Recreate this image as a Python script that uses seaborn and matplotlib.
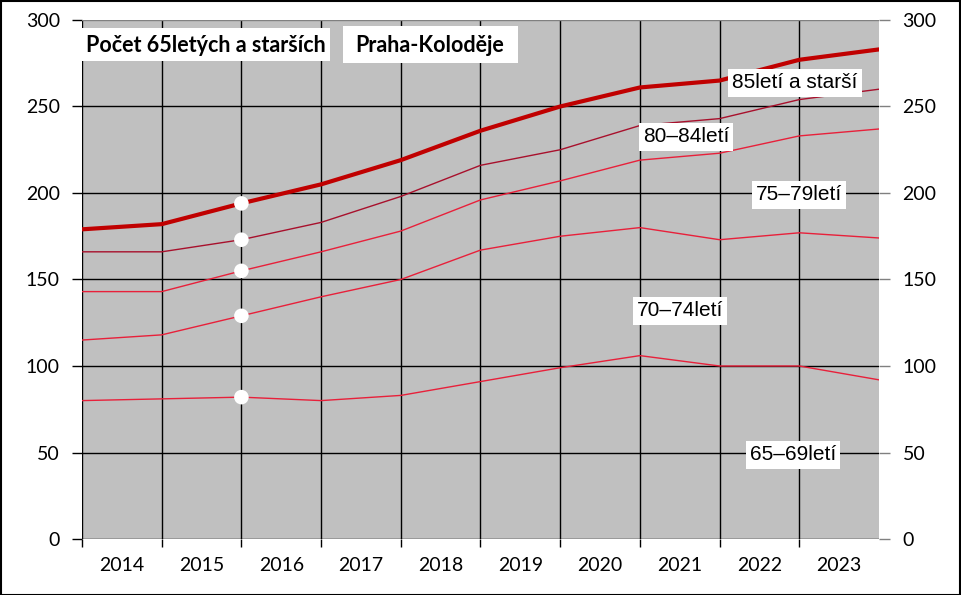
import matplotlib
matplotlib.use("Agg")
import matplotlib.pyplot as plt
import seaborn as sns
import pandas as pd
from matplotlib.patches import Rectangle

# ---- data (cumulative counts, points at gridlines) ----
x_pos = list(range(11))
years = ["2014", "2015", "2016", "2017", "2018", "2019", "2020", "2021", "2022", "2023"]
s85 = [179, 182, 194, 205, 219, 236, 250, 261, 265, 277, 283]
s80 = [166, 166, 173, 183, 198, 216, 225, 239, 243, 254, 260]
s75 = [143, 143, 155, 166, 178, 196, 207, 219, 223, 233, 237]
s70 = [115, 118, 129, 140, 150, 167, 175, 180, 173, 177, 174]
s65 = [80, 81, 82, 80, 83, 91, 99, 106, 100, 100, 92]
series_names = ["85letí a starší", "80–84letí", "75–79letí", "70–74letí", "65–69letí"]
y_ticks = [0, 50, 100, 150, 200, 250, 300]

sns.set_theme(style="white")
plt.rcParams['font.family'] = ['Lato', 'DejaVu Sans']
plt.rcParams['text.color'] = 'black'
plt.rcParams['xtick.color'] = 'black'
plt.rcParams['ytick.color'] = 'black'
plt.rcParams['axes.labelcolor'] = 'black'

W, H = 961, 595
fig = plt.figure(figsize=(W / 100, H / 100), dpi=100)
fig.patch.set_facecolor("white")
ax = fig.add_axes([82 / W, 1 - 539 / H, (879 - 82) / W, (539 - 20) / H])
ax.set_facecolor("#C0C0C0")

values = [s85, s80, s75, s70, s65]
df = pd.concat([pd.DataFrame({"x": x_pos, "y": v, "s": n}) for n, v in zip(series_names, values)])

styles = {
    "85letí a starší": ("#C00000", 3.0),
    "80–84letí": ("#A8102C", 1.0),
    "75–79letí": ("#E8203A", 1.0),
    "70–74letí": ("#E8203A", 1.0),
    "65–69letí": ("#E8203A", 1.0),
}

# grid
for xv in range(0, 10):
    ax.axvline(xv, color="black", lw=1.0, zorder=1)
for yv in y_ticks[:-1]:
    ax.axhline(yv, color="black", lw=1.0, zorder=1)
ax.axhline(300, color="#808080", lw=1.0, zorder=1)

for n in series_names:
    c, lw = styles[n]
    sns.lineplot(data=df[df.s == n], x="x", y="y", color=c, lw=lw, ax=ax, zorder=3)

dots = df[df.x == 2]
sns.scatterplot(data=dots, x="x", y="y", color="white", s=110, edgecolor="none", ax=ax, zorder=4)

ax.set_xlim(0, 10)
ax.set_ylim(0, 300)
ax.set_xlabel("")
ax.set_ylabel("")
for sp in ax.spines.values():
    sp.set_visible(False)

ax.set_xticks(range(0, 10))
ax.set_xticklabels([])
ax.set_xticks([i + 0.5 for i in range(10)], minor=True)
ax.set_xticklabels(years, minor=True, fontsize=14)
ax.tick_params(axis="x", which="major", direction="out", length=6, width=1, color="black", bottom=True)
ax.tick_params(axis="x", which="minor", length=0, pad=13, labelcolor="black")

ax.set_yticks(y_ticks)
ax.set_yticklabels([str(v) for v in y_ticks], fontsize=14)
ax.tick_params(axis="y", which="major", direction="out", length=7, width=1, color="black", left=True, pad=9)

ax2 = ax.twinx()
ax2.set_ylim(0, 300)
ax2.set_yticks(y_ticks)
ax2.set_yticklabels([str(v) for v in y_ticks], fontsize=14)
ax2.tick_params(axis="y", direction="out", length=8, width=1, color="#808080", right=True, pad=9)
for sp in ax2.spines.values():
    sp.set_visible(False)
ax2.grid(False)

# title boxes
def pbox(x0, y0, x1, y1):
    fig.patches.append(Rectangle((x0 / W, 1 - y1 / H), (x1 - x0) / W, (y1 - y0) / H,
                                 transform=fig.transFigure, facecolor="white", edgecolor="none", zorder=5))

pbox(82, 28, 330, 61)
pbox(343, 26, 518, 63)
fig.text(86 / W, 1 - 45 / H, "Počet 65letých a starších", fontsize=15.5, fontweight="bold",
         ha="left", va="center", zorder=6)
fig.text(430 / W, 1 - 45 / H, "Praha-Koloděje", fontsize=15.5, fontweight="bold",
         ha="center", va="center", zorder=6)

# series labels
lbox = dict(boxstyle="square,pad=0.2", facecolor="white", edgecolor="none")
lab_pos = {
    "85letí a starší": (795, 83),
    "80–84letí": (686, 137),
    "75–79letí": (799, 195),
    "70–74letí": (680, 311),
    "65–69letí": (793, 455),
}
for n, (px, py) in lab_pos.items():
    fig.text(px / W, 1 - py / H, n, fontsize=15, family=["Liberation Sans", "DejaVu Sans"],
             ha="center", va="center", bbox=lbox, zorder=10)

fig.patches.append(Rectangle((0.5 / W, 0.5 / H), 1 - 1.5 / W, 1 - 1.5 / H, transform=fig.transFigure,
                             fill=False, edgecolor="black", lw=1.5))

fig.savefig("out.png", dpi=100)
